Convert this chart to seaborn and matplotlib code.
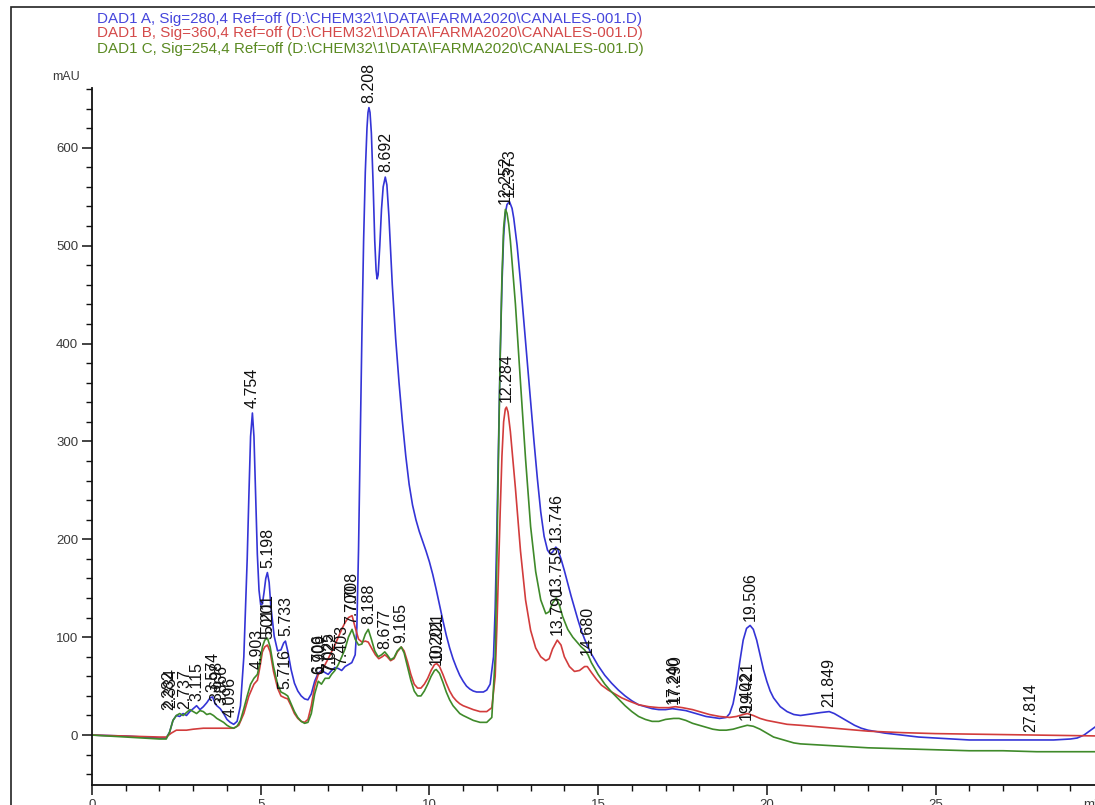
import matplotlib
matplotlib.use("Agg")
import matplotlib.pyplot as plt
import numpy as np
import pandas as pd
import seaborn as sns
from matplotlib.patches import Rectangle
from matplotlib.ticker import MultipleLocator

# ---------------- data (time in min, absorbance in mAU) ----------------
dad_a = [  # Sig=280,4
    (0.0, 0), (0.5, -0.5), (1.0, -1), (1.5, -2), (2.0, -3), (2.2, -3), (2.3, 3), (2.4, 15),
    (2.5, 20), (2.6, 19), (2.7, 22), (2.8, 20), (2.9, 24), (3.0, 27), (3.1, 30), (3.2, 26),
    (3.3, 29), (3.4, 33), (3.5, 38), (3.574, 39), (3.65, 32), (3.7, 30), (3.8, 27), (3.9, 22),
    (4.0, 16), (4.096, 13), (4.2, 11), (4.3, 14), (4.4, 30), (4.5, 80), (4.6, 180), (4.65, 245),
    (4.7, 305), (4.754, 329), (4.8, 305), (4.85, 245), (4.9, 185), (4.95, 148), (5.0, 133),
    (5.05, 134), (5.1, 146), (5.15, 160), (5.198, 166), (5.25, 156), (5.3, 132), (5.4, 101),
    (5.5, 86), (5.6, 87), (5.68, 94), (5.733, 96), (5.8, 86), (5.9, 67), (6.0, 53), (6.1, 45),
    (6.2, 40), (6.3, 37), (6.4, 36), (6.5, 42), (6.6, 55), (6.7, 63), (6.8, 66), (6.9, 64),
    (7.0, 62), (7.1, 66), (7.2, 69), (7.3, 68), (7.4, 66), (7.5, 70), (7.6, 72), (7.7, 74),
    (7.8, 82), (7.85, 110), (7.9, 190), (7.95, 300), (8.0, 410), (8.05, 505), (8.1, 575),
    (8.15, 620), (8.18, 636), (8.208, 641), (8.24, 636), (8.28, 615), (8.33, 565), (8.38, 505),
    (8.42, 475), (8.45, 466), (8.48, 470), (8.53, 500), (8.58, 537), (8.63, 560), (8.692, 570),
    (8.74, 562), (8.8, 530), (8.9, 460), (9.0, 405), (9.1, 360), (9.2, 320), (9.3, 285),
    (9.4, 256), (9.5, 235), (9.6, 220), (9.7, 208), (9.8, 198), (9.9, 188), (10.0, 177),
    (10.1, 164), (10.2, 149), (10.3, 133), (10.4, 117), (10.5, 102), (10.6, 89), (10.7, 78),
    (10.8, 69), (10.9, 61), (11.0, 55), (11.1, 50), (11.2, 47), (11.3, 45), (11.4, 44),
    (11.5, 44), (11.6, 44), (11.7, 46), (11.8, 52), (11.9, 80), (11.95, 130), (12.0, 210),
    (12.05, 300), (12.1, 390), (12.15, 460), (12.2, 510), (12.25, 533), (12.3, 542),
    (12.373, 545), (12.45, 538), (12.5, 528), (12.6, 500), (12.7, 463), (12.8, 422),
    (12.9, 380), (13.0, 340), (13.1, 300), (13.2, 262), (13.3, 228), (13.4, 203), (13.5, 189),
    (13.58, 185), (13.65, 187), (13.746, 192), (13.8, 190), (13.9, 180), (14.0, 168),
    (14.1, 155), (14.2, 142), (14.3, 130), (14.4, 118), (14.5, 107), (14.6, 98), (14.7, 90),
    (14.8, 83), (14.9, 77), (15.0, 71), (15.2, 61), (15.4, 53), (15.6, 46), (15.8, 40),
    (16.0, 35), (16.2, 31), (16.4, 29), (16.6, 27), (16.8, 26), (17.0, 26), (17.2, 27),
    (17.4, 26), (17.6, 25), (17.8, 23), (18.0, 21), (18.2, 19), (18.4, 18), (18.6, 17),
    (18.8, 18), (18.9, 22), (19.0, 32), (19.1, 50), (19.2, 75), (19.3, 97), (19.4, 109),
    (19.506, 112), (19.6, 108), (19.7, 97), (19.8, 82), (19.9, 67), (20.0, 55), (20.1, 45),
    (20.2, 38), (20.4, 29), (20.6, 24), (20.8, 21), (21.0, 20), (21.2, 21), (21.4, 22),
    (21.6, 23), (21.849, 24), (22.0, 22), (22.2, 18), (22.4, 14), (22.6, 10), (22.8, 7),
    (23.0, 5), (23.5, 2), (24.0, 0), (24.5, -2), (25.0, -3), (25.5, -4), (26.0, -5), (26.5, -5),
    (27.0, -5), (27.5, -5), (28.0, -5), (28.5, -5), (29.0, -4), (29.2, -3), (29.4, 0),
    (29.6, 5), (29.8, 10), (30.0, 14),
]

dad_b = [  # Sig=360,4
    (0.0, 0), (0.5, -0.5), (1.0, -1), (1.5, -1.5), (2.0, -2), (2.2, -2), (2.35, 2), (2.5, 5),
    (2.8, 5), (3.0, 6), (3.3, 7), (3.6, 7), (3.9, 7), (4.2, 7), (4.35, 10), (4.5, 22),
    (4.65, 40), (4.8, 52), (4.903, 56), (4.98, 70), (5.05, 85), (5.12, 90), (5.2, 92),
    (5.28, 85), (5.38, 65), (5.5, 48), (5.6, 40), (5.716, 38), (5.8, 37), (5.9, 30), (6.0, 22),
    (6.1, 17), (6.2, 14), (6.3, 13), (6.4, 16), (6.5, 30), (6.6, 50), (6.706, 62), (6.8, 65),
    (6.909, 72), (7.0, 78), (7.1, 85), (7.2, 92), (7.3, 100), (7.4, 108), (7.5, 115),
    (7.6, 120), (7.708, 122), (7.8, 110), (7.9, 98), (8.0, 95), (8.1, 96), (8.188, 95),
    (8.3, 88), (8.4, 82), (8.5, 78), (8.6, 80), (8.677, 82), (8.75, 80), (8.85, 76),
    (8.95, 78), (9.05, 85), (9.165, 90), (9.25, 86), (9.35, 75), (9.45, 62), (9.55, 52),
    (9.65, 48), (9.75, 48), (9.85, 52), (9.95, 58), (10.05, 66), (10.15, 72), (10.221, 73),
    (10.3, 70), (10.4, 62), (10.5, 53), (10.6, 45), (10.7, 39), (10.8, 35), (10.9, 32),
    (11.0, 30), (11.3, 26), (11.5, 24), (11.7, 24), (11.85, 28), (11.95, 60), (12.0, 110),
    (12.05, 170), (12.1, 230), (12.15, 285), (12.2, 320), (12.25, 333), (12.284, 335),
    (12.33, 330), (12.4, 310), (12.55, 252), (12.7, 188), (12.85, 138), (13.0, 107),
    (13.15, 89), (13.3, 80), (13.45, 76), (13.55, 78), (13.65, 88), (13.79, 97), (13.9, 92),
    (14.0, 80), (14.15, 70), (14.3, 65), (14.45, 66), (14.6, 70), (14.68, 70), (14.8, 64),
    (14.95, 57), (15.1, 51), (15.3, 46), (15.5, 42), (15.7, 38), (15.9, 35), (16.2, 31),
    (16.5, 29), (16.8, 28), (17.1, 28), (17.29, 29), (17.5, 28), (17.8, 26), (18.0, 24),
    (18.3, 21), (18.6, 19), (18.9, 18), (19.1, 19), (19.3, 21), (19.42, 22), (19.6, 20),
    (19.8, 17), (20.0, 15), (20.3, 13), (20.6, 11), (21.0, 10), (21.5, 8.5), (22.0, 7),
    (23.0, 4), (24.0, 2.5), (25.0, 1.5), (26.0, 1), (27.0, 0.5), (28.0, 0), (29.0, -0.5),
    (30.0, -1),
]

dad_c = [  # Sig=254,4
    (0.0, 0), (0.5, -1), (1.0, -2), (1.5, -3), (2.0, -4), (2.2, -4), (2.3, 3), (2.4, 15),
    (2.5, 20), (2.6, 22), (2.7, 20), (2.8, 23), (2.9, 26), (3.0, 24), (3.1, 22), (3.2, 25),
    (3.3, 24), (3.4, 21), (3.5, 22), (3.6, 20), (3.7, 17), (3.8, 15), (3.9, 13), (4.0, 10),
    (4.1, 8), (4.2, 7), (4.3, 9), (4.4, 15), (4.5, 27), (4.6, 40), (4.7, 52), (4.8, 58),
    (4.903, 62), (4.98, 75), (5.05, 90), (5.12, 97), (5.201, 99), (5.28, 90), (5.38, 70),
    (5.5, 52), (5.6, 44), (5.716, 42), (5.8, 40), (5.9, 32), (6.0, 24), (6.1, 18), (6.2, 14),
    (6.3, 12), (6.4, 13), (6.5, 22), (6.6, 42), (6.706, 55), (6.8, 52), (6.909, 58), (7.025, 58),
    (7.1, 62), (7.2, 66), (7.3, 72), (7.403, 80), (7.5, 88), (7.6, 100), (7.708, 108),
    (7.8, 98), (7.9, 92), (8.0, 93), (8.1, 103), (8.188, 108), (8.28, 98), (8.38, 86),
    (8.48, 80), (8.58, 82), (8.677, 85), (8.75, 82), (8.85, 77), (8.95, 79), (9.05, 86),
    (9.165, 90), (9.25, 84), (9.35, 70), (9.45, 56), (9.55, 45), (9.65, 40), (9.75, 40),
    (9.85, 45), (9.95, 52), (10.05, 60), (10.15, 66), (10.201, 67), (10.3, 63), (10.4, 54),
    (10.5, 44), (10.6, 36), (10.7, 30), (10.8, 26), (10.9, 22), (11.0, 20), (11.3, 15),
    (11.5, 13), (11.7, 13), (11.85, 18), (11.95, 80), (12.0, 180), (12.05, 290), (12.1, 390),
    (12.15, 468), (12.2, 518), (12.252, 537), (12.3, 533), (12.35, 522), (12.4, 505),
    (12.55, 440), (12.7, 360), (12.85, 282), (13.0, 213), (13.15, 167), (13.3, 138),
    (13.45, 124), (13.55, 126), (13.65, 135), (13.759, 140), (13.85, 133), (13.95, 121),
    (14.1, 108), (14.25, 100), (14.4, 94), (14.5, 90), (14.6, 87), (14.7, 82), (14.8, 74),
    (15.0, 62), (15.2, 52), (15.4, 44), (15.6, 37), (15.8, 30), (16.0, 24), (16.2, 19),
    (16.4, 16), (16.6, 14), (16.8, 14), (17.0, 16), (17.24, 17), (17.4, 17), (17.6, 15),
    (17.8, 12), (18.0, 10), (18.2, 8), (18.4, 6), (18.6, 5), (18.8, 5), (19.0, 6), (19.2, 8),
    (19.42, 10), (19.6, 9), (19.8, 6), (20.0, 2), (20.2, -2), (20.4, -4), (20.6, -6),
    (20.8, -8), (21.0, -9), (21.5, -10), (22.0, -11), (23.0, -13), (24.0, -14), (25.0, -15),
    (26.0, -16), (27.0, -16), (28.0, -17), (29.0, -17), (30.0, -17),
]

# peak labels: (retention time, label base in mAU, text)
peak_labels = [
    (2.28, 24, "2.282"), (2.34, 26, "2.334"), (2.74, 25, "2.737"), (3.115, 33, "3.115"),
    (3.574, 42, "3.574"), (3.70, 33, "3.698"), (3.866, 29, "3.866"), (4.096, 16, "4.096"),
    (4.754, 332, "4.754"), (4.903, 65, "4.903"), (5.198, 169, "5.198"), (5.201, 101, "5.201"),
    (5.211, 96, "5.011"), (5.733, 99, "5.733"), (5.716, 45, "5.716"), (6.706, 60, "6.706"),
    (6.75, 60, "6.909"), (7.025, 62, "7.025"), (7.06, 62, "7.022"), (7.403, 70, "7.403"),
    (7.70, 111, "7.700"), (7.708, 124, "7.708"), (8.188, 111, "8.188"), (8.208, 644, "8.208"),
    (8.677, 86, "8.677"), (8.692, 573, "8.692"), (9.165, 92, "9.165"), (10.201, 70, "10.201"),
    (10.221, 75, "10.221"), (12.252, 540, "12.252"), (12.373, 548, "12.373"),
    (12.284, 338, "12.284"), (13.746, 195, "13.746"), (13.759, 143, "13.759"),
    (13.79, 100, "13.790"), (14.68, 80, "14.680"), (17.24, 30, "17.240"), (17.29, 31, "17.290"),
    (19.402, 13, "19.402"), (19.421, 24, "19.421"), (19.506, 115, "19.506"),
    (21.849, 27, "21.849"), (27.814, 1, "27.814"),
]

signal_names = ["DAD1 A", "DAD1 B", "DAD1 C"]
signal_titles = [
    r"DAD1 A, Sig=280,4 Ref=off (D:\CHEM32\1\DATA\FARMA2020\CANALES-001.D)",
    r"DAD1 B, Sig=360,4 Ref=off (D:\CHEM32\1\DATA\FARMA2020\CANALES-001.D)",
    r"DAD1 C, Sig=254,4 Ref=off (D:\CHEM32\1\DATA\FARMA2020\CANALES-001.D)",
]
line_colors = ["#3434d6", "#d23c3c", "#3f8a2a"]
title_colors = ["#4646dc", "#d44a4a", "#5a8a22"]

# ---------------- build frame ----------------
frames = []
for name, pts in zip(signal_names, [dad_a, dad_b, dad_c]):
    arr = np.array(pts, dtype=float)
    frames.append(pd.DataFrame({"time": arr[:, 0], "mAU": arr[:, 1], "signal": name}))
df = pd.concat(frames, ignore_index=True)

sns.set_style("ticks")
plt.rcParams["font.family"] = ["Liberation Sans", "DejaVu Sans"]

W, H = 1095, 805
fig = plt.figure(figsize=(W / 100, H / 100), dpi=100)
fig.patch.set_facecolor("white")

x0, x1 = 92, 92 + 30 * 33.74
y_top, y_bot = 88, 785
ax = fig.add_axes([x0 / W, (H - y_bot) / H, (x1 - x0) / W, (y_bot - y_top) / H])
ax.set_facecolor("none")

sns.lineplot(data=df, x="time", y="mAU", hue="signal", hue_order=signal_names,
             palette=dict(zip(signal_names, line_colors)), estimator=None, sort=False,
             legend=False, linewidth=1.2, ax=ax)

ax.set_xlim(0, 30)
ax.set_ylim(-51, 661)
ax.set_xlabel("")
ax.set_ylabel("")
sns.despine(ax=ax)
for s in ("left", "bottom"):
    ax.spines[s].set_linewidth(1.3)
    ax.spines[s].set_color("#111111")

ax.xaxis.set_major_locator(MultipleLocator(5))
ax.xaxis.set_minor_locator(MultipleLocator(1))
ax.yaxis.set_major_locator(MultipleLocator(100))
ax.yaxis.set_minor_locator(MultipleLocator(20))
ax.set_xticks([0, 5, 10, 15, 20, 25])
ax.set_yticks([0, 100, 200, 300, 400, 500, 600])
ax.tick_params(which="major", length=7, width=1.1, color="#111111",
               labelsize=9.5, labelcolor="#3a3a3a", pad=3)
ax.tick_params(which="minor", length=4, width=1.0, color="#111111")

# unit labels
ax.annotate("min", xy=(29.37, 0), xycoords=("data", "axes fraction"),
            xytext=(0, -10), textcoords="offset points", ha="left", va="top",
            fontsize=9.5, color="#3a3a3a", annotation_clip=False)
fig.text(52 / W, 1 - 77 / H, "mAU", ha="left", va="center", fontsize=9, color="#3a3a3a")

# peak labels
for t, yb, s in peak_labels:
    ax.text(t, yb + 2, s, rotation=90, ha="center", va="bottom", fontsize=11.5,
            color="#101010", clip_on=False)

# signal titles
for i, (txt, c) in enumerate(zip(signal_titles, title_colors)):
    fig.text(97 / W, 1 - (18.5 + 15 * i) / H, txt, ha="left", va="center",
             fontsize=10.9, color=c)

# page frame
fig.patches.append(Rectangle((11 / W, -0.02), 1.0, 1 - 7 / H + 0.02,
                             transform=fig.transFigure, fill=False,
                             edgecolor="#222222", linewidth=1.2))

fig.savefig("out.png", dpi=100, facecolor="white")
